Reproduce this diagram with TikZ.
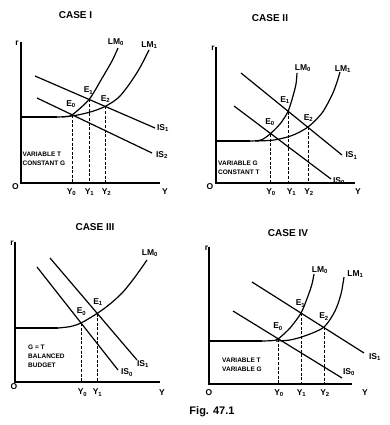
\documentclass[tikz,border=0pt]{standalone}
\usepackage{fontspec}
\setmainfont{Liberation Sans}
\usetikzlibrary{arrows}

\newcommand{\sbs}[1]{\textsubscript{#1}}

\tikzset{
    axis/.style={line width=1.5pt},
    curve/.style={line width=1.2pt},
    drop/.style={line width=1pt, dash pattern=on 3pt off 1.6pt},
    lbl/.style={font=\bfseries\fontsize{8.5}{9}\selectfont, inner sep=1pt},
    note/.style={font=\bfseries\fontsize{6.5}{9}\selectfont, align=left, inner sep=0pt, anchor=north west},
    case/.style={font=\bfseries\fontsize{10}{11}\selectfont}
}

\begin{document}
\begin{tikzpicture}[x=1pt,y=-1pt]
    \useasboundingbox (0,0) rectangle (389,425);

    %%one
    \node[case] (ta) at (75.5,15) {CASE I};
    \coordinate (oa) at (21,183);
    \draw[axis] (21,42) -- (oa) -- (160,183);
    \node[lbl] (ra) at (17,43) {r};
    \node[lbl] (Oa) at (15.5,187) {O};
    \node[lbl] (Ya) at (165,192) {Y};

    \coordinate (a0) at (72,115);
    \coordinate (a1) at (89,99.5);
    \coordinate (a2) at (105,106.5);

    \draw[curve] (oa |- 0,117) -- (57,117);
    \draw[curve] plot[smooth] coordinates {(57,117) (65,116.6) (a0) (a1) (101,80) (112,61) (118,48)};
    \draw[curve] plot[smooth] coordinates {(62,117) (76,115.3) (91,111.8) (a2) (118,98) (128,86) (138,71) (144,60) (149,50)};
    \draw[curve] (35,76) -- (155,128);
    \draw[curve] (37,98) -- (152,153);

    \draw[drop] (a0) -- (a0 |- oa);
    \draw[drop] (a1) -- (a1 |- oa);
    \draw[drop] (a2) -- (a2 |- oa);

    \node[lbl] (lm0a) at (116,42) {LM\sbs{0}};
    \node[lbl] (lm1a) at (149.5,45) {LM\sbs{1}};
    \node[lbl] (is1a) at (163,128) {IS\sbs{1}};
    \node[lbl] (is2a) at (162,155) {IS\sbs{2}};
    \node[lbl] (E0a) at (71,104) {E\sbs{0}};
    \node[lbl] (E1a) at (88.5,90.5) {E\sbs{1}};
    \node[lbl] (E2a) at (105.5,99) {E\sbs{2}};
    \node[lbl] (Y0a) at (71.5,192) {Y\sbs{0}};
    \node[lbl] (Y1a) at (89.5,192) {Y\sbs{1}};
    \node[lbl] (Y2a) at (106.5,192) {Y\sbs{2}};
    \node[note] (na) at (22.5,151.7) {VARIABLE T\\CONSTANT G};

    %%two
    \node[case] (tb) at (270,18) {CASE II};
    \coordinate (ob) at (216,183);
    \draw[axis] (216,47) -- (ob) -- (355,183);
    \node[lbl] (rb) at (213,48) {r};
    \node[lbl] (Ob) at (210,187) {O};
    \node[lbl] (Yb) at (358,192) {Y};

    \coordinate (b0) at (270,134);
    \coordinate (b1) at (288,111.5);
    \coordinate (b2) at (308,127);

    \draw[curve] (ob |- 0,141) -- (250,141);
    \draw[curve] plot[smooth] coordinates {(250,141) (261,140) (b0) (280,124) (b1) (293,96) (296,84) (297,73)};
    \draw[curve] plot[smooth] coordinates {(255,141) (274,140) (292,135.5) (b2) (322,113) (332,95) (337,82) (340,72)};
    \draw[curve] (241,73) -- (342,155);
    \draw[curve] (234,106) -- (331,179);

    \draw[drop] (b0) -- (b0 |- ob);
    \draw[drop] (b1) -- (b1 |- ob);
    \draw[drop] (b2) -- (b2 |- ob);

    \node[lbl] (lm0b) at (303,68) {LM\sbs{0}};
    \node[lbl] (lm1b) at (343,69) {LM\sbs{1}};
    \node[lbl] (is1b) at (351.5,155.5) {IS\sbs{1}};
    \node[lbl] (is0b) at (339,181) {IS\sbs{0}};
    \node[lbl] (E0b) at (270,122) {E\sbs{0}};
    \node[lbl] (E1b) at (285,100) {E\sbs{1}};
    \node[lbl] (E2b) at (308.5,118) {E\sbs{2}};
    \node[lbl] (Y0b) at (271,192) {Y\sbs{0}};
    \node[lbl] (Y1b) at (291.5,192) {Y\sbs{1}};
    \node[lbl] (Y2b) at (309,192) {Y\sbs{2}};
    \node[note] (nb) at (218,160.7) {VARIABLE G\\CONSTANT T};

    %%three
    \node[case] (tc) at (95,227) {CASE III};
    \coordinate (oc) at (15,382);
    \draw[axis] (15,242) -- (oc) -- (160,382);
    \node[lbl] (rc) at (12,243) {r};
    \node[lbl] (Oc) at (14,387) {O};
    \node[lbl] (Yc) at (162,392.5) {Y};

    \coordinate (c0) at (81,323);
    \coordinate (c1) at (97,313.5);

    \draw[curve] (oc |- 0,328) -- (58,328);
    \draw[curve] plot[smooth] coordinates {(58,328) (70,326.6) (c0) (c1) (110,304) (123,292) (135,277) (147,260)};
    \draw[curve] (50,258) -- (137,360);
    \draw[curve] (37,267) -- (118,370);

    \draw[drop] (c0) -- (c0 |- oc);
    \draw[drop] (c1) -- (c1 |- oc);

    \node[lbl] (lm0c) at (150,253) {LM\sbs{0}};
    \node[lbl] (is1c) at (143,364) {IS\sbs{1}};
    \node[lbl] (is0c) at (127,372.5) {IS\sbs{0}};
    \node[lbl] (E0c) at (81.5,311.5) {E\sbs{0}};
    \node[lbl] (E1c) at (98,302) {E\sbs{1}};
    \node[lbl] (Y0c) at (82.5,392.5) {Y\sbs{0}};
    \node[lbl] (Y1c) at (97.5,392.5) {Y\sbs{1}};
    \node[note] (nc) at (28,344.4) {G = T\\BALANCED\\BUDGET};

    %%four
    \node[case] (td) at (288,233) {CASE IV};
    \coordinate (od) at (209,384);
    \draw[axis] (209,247) -- (od) -- (352,384);
    \node[lbl] (rd) at (206.5,248) {r};
    \node[lbl] (Od) at (209,392.5) {O};
    \node[lbl] (Yd) at (365,393) {Y};

    \coordinate (d0) at (278,339);
    \coordinate (d1) at (301,313);
    \coordinate (d2) at (324,327);

    \draw[curve] (od |- 0,341) -- (262,341);
    \draw[curve] plot[smooth] coordinates {(262,341) (272,340.6) (d0) (290,328) (d1) (308,296) (312,284) (314,274)};
    \draw[curve] plot[smooth] coordinates {(276,341) (290,340) (306,335.5) (d2) (335,311) (341,294) (344,277)};
    \draw[curve] (252,282) -- (364,353);
    \draw[curve] (233,311) -- (342,378);

    \draw[drop] (d0) -- (d0 |- od);
    \draw[drop] (d1) -- (d1 |- od);
    \draw[drop] (d2) -- (d2 |- od);

    \node[lbl] (lm0d) at (320,270) {LM\sbs{0}};
    \node[lbl] (lm1d) at (355.5,274) {LM\sbs{1}};
    \node[lbl] (is1d) at (375,357) {IS\sbs{1}};
    \node[lbl] (is0d) at (349,372) {IS\sbs{0}};
    \node[lbl] (E0d) at (278,326.5) {E\sbs{0}};
    \node[lbl] (E1d) at (300.5,303.5) {E\sbs{1}};
    \node[lbl] (E2d) at (324,316.5) {E\sbs{2}};
    \node[lbl] (Y0d) at (279,393) {Y\sbs{0}};
    \node[lbl] (Y1d) at (301.5,393) {Y\sbs{1}};
    \node[lbl] (Y2d) at (325,393) {Y\sbs{2}};
    \node[note] (nd) at (222,357.7) {VARIABLE T\\VARIABLE G};

    \node[font=\bfseries\fontsize{11}{12}\selectfont] (fig) at (212,412) {Fig. 47.1};
\end{tikzpicture}
\end{document}
